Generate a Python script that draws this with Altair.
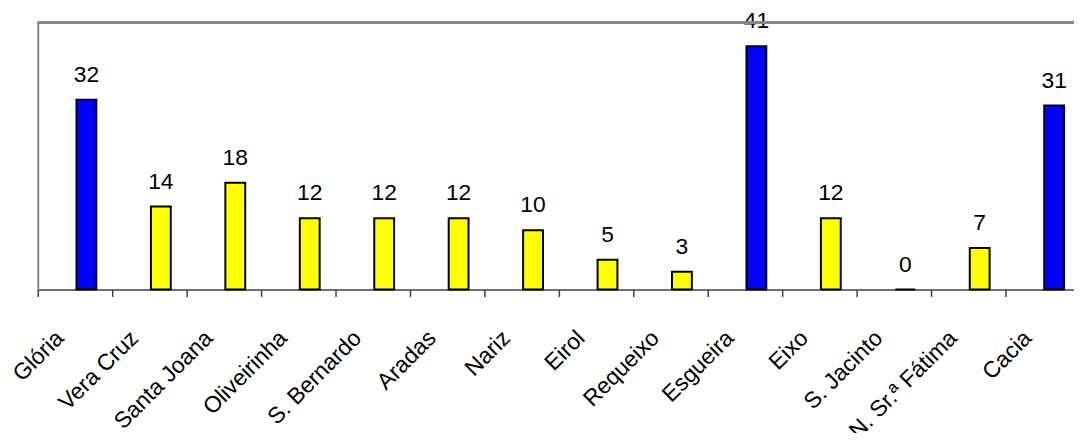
import altair as alt
import pandas as pd

categories = ["Glória", "Vera Cruz", "Santa Joana", "Oliveirinha", "S. Bernardo",
              "Aradas", "Nariz", "Eirol", "Requeixo", "Esgueira", "Eixo",
              "S. Jacinto", "N. Sr.ª Fátima", "Cacia"]
values = [32, 14, 18, 12, 12, 12, 10, 5, 3, 41, 12, 0, 7, 31]
groups = ["blue", "yellow", "yellow", "yellow", "yellow", "yellow", "yellow",
          "yellow", "yellow", "blue", "yellow", "yellow", "yellow", "blue"]

df = pd.DataFrame({"cat": categories, "val": values, "grp": groups})

FONT = "Liberation Sans"

x = alt.X("cat:N", sort=categories,
          scale=alt.Scale(range=[0, 1050], paddingInner=0, paddingOuter=0),
          axis=alt.Axis(title=None, bandPosition=0, labelAngle=-45,
                        labelAlign="right", labelBaseline="middle",
                        labelOffset=-15, labelPadding=38, labelFont=FONT,
                        labelFontSize=23, labelColor="black",
                        labelOverlap=False, labelBound=False,
                        tickSize=7, tickColor="#404040", tickWidth=1.5,
                        domainColor="#404040", domainWidth=1.5))
y = alt.Y("val:Q", scale=alt.Scale(domain=[0, 45], nice=False),
          axis=alt.Axis(title=None, labels=False, ticks=False, grid=False,
                        domainColor="#888888", domainWidth=2))

bars = alt.Chart(df).mark_bar(size=20, stroke="black", strokeWidth=2,
                              xOffset=11.5).encode(
    x=x, y=y,
    color=alt.Color("grp:N", scale=alt.Scale(domain=["blue", "yellow"],
                                             range=["#0000FF", "#FFFF00"]),
                    legend=None))

labels = alt.Chart(df).mark_text(font=FONT, fontSize=23, color="black",
                                 baseline="alphabetic", dy=-18,
                                 xOffset=11.5).encode(
    x=x, y=y, text="val:Q")

top = alt.Chart(df).mark_rule(color="#888888", strokeWidth=2).encode(
    y=alt.datum(45))

chart = (bars + labels + top).properties(
    width=1044, height=269,
    autosize=alt.AutoSizeParams(type="none"),
    padding={"left": 30, "top": 13, "right": 0, "bottom": 143},
).configure_view(stroke=None)

chart.save("out.html", embed_options={"renderer": "svg", "actions": False})
